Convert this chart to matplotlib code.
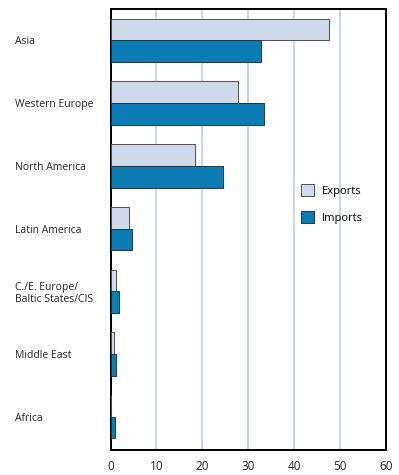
import matplotlib
matplotlib.use("Agg")
import matplotlib.pyplot as plt
import numpy as np

categories = ["Asia", "Western Europe", "North America", "Latin America",
              "C./E. Europe/\nBaltic States/CIS", "Middle East", "Africa"]
exports = [47.6, 27.8, 18.5, 4.1, 1.3, 0.7, 0.1]
imports = [32.8, 33.5, 24.4, 4.7, 1.9, 1.1, 1.05]
xticks = [0, 10, 20, 30, 40, 50, 60]

plt.rcParams['font.family'] = ['Open Sans', 'DejaVu Sans']

fig = plt.figure(figsize=(3.99, 4.75), dpi=100)
ax = fig.add_axes([110.5/399, 1-450/475, (386-110.5)/399, (450-9)/475])

y = np.arange(len(categories))
h = 0.346
ax.barh(y - h/2, exports, height=h, color="#cfdaed", edgecolor="#4a4f5a", linewidth=0.7, label="Exports", zorder=3)
ax.barh(y + h/2, imports, height=h, color="#0b7db4", edgecolor="#1f3550", linewidth=0.7, label="Imports", zorder=3)

ax.set_xlim(0, 60)
ax.set_ylim(6.53, -0.5)
ax.set_xticks(xticks)
ax.set_xticklabels([str(t) for t in xticks], fontsize=8.5, color="#222222")
ax.set_yticks(y)
ax.set_yticklabels(categories, fontsize=7.5, ha="left", color="#222222")
ax.tick_params(axis="y", length=0, pad=68.5)
ax.tick_params(axis="x", length=0, pad=7)
ax.grid(axis="x", color="#cdd6e0", linewidth=1.5, zorder=0)
for s in ax.spines.values():
    s.set_linewidth(1.4)
    s.set_color("black")

ax.legend(loc="upper left", bbox_to_anchor=(0.655, 0.625), frameon=False, fontsize=8,
          handlelength=1.2, handleheight=1.2, labelspacing=1.3, handletextpad=0.7)

fig.savefig("out.png", dpi=100)
